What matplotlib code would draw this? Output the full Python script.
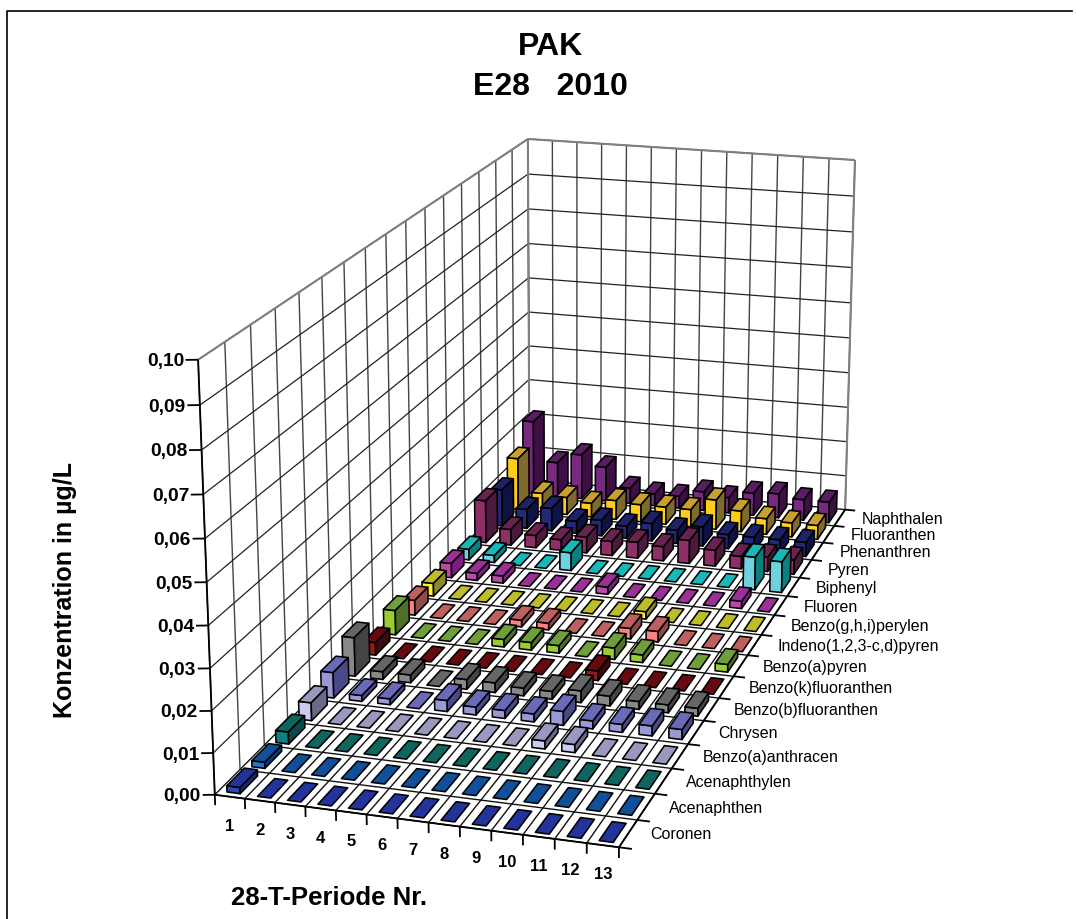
import numpy as np
import matplotlib
matplotlib.use('Agg')
import matplotlib.pyplot as plt
from mpl_toolkits.mplot3d.art3d import Poly3DCollection, Line3DCollection

plt.rcParams['font.family'] = ['Liberation Sans', 'DejaVu Sans']

# PARTIE DONNEES
periods = ['1', '2', '3', '4', '5', '6', '7', '8', '9', '10', '11', '12', '13']
compounds = ['Coronen', 'Acenaphthen', 'Acenaphthylen', 'Benzo(a)anthracen', 'Chrysen',
             'Benzo(b)fluoranthen', 'Benzo(k)fluoranthen', 'Benzo(a)pyren',
             'Indeno(1,2,3-c,d)pyren', 'Benzo(g,h,i)perylen', 'Fluoren', 'Biphenyl',
             'Pyren', 'Phenanthren', 'Fluoranthen', 'Naphthalen']
z_ticks = [0.00, 0.01, 0.02, 0.03, 0.04, 0.05, 0.06, 0.07, 0.08, 0.09, 0.10]

coronen = [.0015, 0, 0, 0, 0, 0, 0, 0, 0, 0, 0, 0, 0]
acenaphthen = [.0015, 0, 0, 0, 0, 0, 0, 0, 0, 0, 0, 0, 0]
acenaphthylen = [.003, 0, 0, 0, 0, 0, 0, 0, 0, 0, 0, 0, 0]
benzo_a_anthracen = [.0045, 0, 0, 0, 0, 0, 0, 0, .002, .002, 0, 0, 0]
chrysen = [.0065, .0015, .0015, 0, .0028, .002, .002, .002, .0035, .002, .002, .0025, .0025]
benzo_b = [.010, .002, .002, 0, .0025, .0025, .002, .002, .003, .0025, .002, .002, .002]
benzo_k = [.0033, 0, 0, 0, 0, 0, 0, 0, .0025, 0, 0, 0, 0]
benzo_a_pyren = [.0065, 0, 0, 0, .002, .002, .002, 0, .003, .002, 0, 0, .002]
indeno = [.004, 0, 0, 0, .0018, .0018, 0, 0, .0028, .0028, 0, 0, 0]
benzo_ghi = [.0035, 0, 0, 0, 0, 0, 0, 0, .002, 0, 0, 0, 0]
fluoren = [.004, .002, .002, 0, 0, 0, .002, 0, 0, 0, 0, .002, 0]
biphenyl = [.003, .002, 0, 0, .005, 0, 0, 0, 0, 0, 0, .009, .0085]
pyren = [.012, .0045, .0035, .003, .0045, .004, .0045, .004, .0065, .0045, .0035, .004, .004]
phenanthren = [.0105, .0055, .0065, .0035, .0045, .0035, .005, .0038, .0055, .004, .004, .004, .004]
fluoranthen = [.015, .0055, .005, .004, .0055, .005, .005, .005, .0085, .006, .0045, .004, .004]
naphthalen = [.0215, .010, .013, .010, .0045, .0035, .0035, .0055, .0045, .0065, .007, .006, .006]

values = [coronen, acenaphthen, acenaphthylen, benzo_a_anthracen, chrysen, benzo_b, benzo_k,
          benzo_a_pyren, indeno, benzo_ghi, fluoren, biphenyl, pyren, phenanthren,
          fluoranthen, naphthalen]

# front, top, side
colors = [('#2a4ab0', '#22339c', '#1a2670'), ('#2a70cc', '#10509a', '#0a3a70'),
          ('#0f8080', '#0f665f', '#0a4a4a'), ('#ccccee', '#9999c0', '#6a6a8a'),
          ('#9999d6', '#6a6ab8', '#4a4a8a'), ('#888888', '#666666', '#444444'),
          ('#8f1a1a', '#660a10', '#3f0a0f'), ('#99cc33', '#6f9f3a', '#4f6f2a'),
          ('#ff8080', '#bf6060', '#8f4a4a'), ('#ffee33', '#bdbd2a', '#8a8a2a'),
          ('#b84aa8', '#9b3098', '#7c2080'), ('#6fd0e0', '#19b8b8', '#0a7f80'),
          ('#8e2f68', '#6a2350', '#4c1a3c'), ('#222a78', '#1e2266', '#0f1245'),
          ('#ffcc1a', '#c9a030', '#7f6a2d'), ('#772a7f', '#5a1c63', '#3e0f45')]

W, H = 1076, 920
nx = len(periods)
ny = len(compounds)
ztop = z_ticks[-1]

# PARTIE CAMERA : repere du graphique -> pixels de l'image, cale sur les coins de la grille
world = np.array([(0, 0, 0), (nx, 0, 0), (nx, ny, 0), (0, ny, 0), (0, 0, ztop), (0, ny, ztop),
                  (nx, ny, ztop), (7, 0, 0), (nx, 8, 0), (7, ny, ztop), (0, 8, ztop)], float)
pixels = np.array([(215, 796), (618.7, 848.3), (845, 511), (529.5, 480), (198.3, 360.7),
                   (527.7, 140), (855, 161), (428.3, 823.6), (748, 655.7), (701.7, 151.2),
                   (385.7, 235.1)], float)

rows = []
for (x, y, z), (u, v) in zip(world, pixels):
    z = z * 100
    rows.append([x, y, z, 1, 0, 0, 0, 0, -u * x, -u * y, -u * z, -u])
    rows.append([0, 0, 0, 0, x, y, z, 1, -v * x, -v * y, -v * z, -v])
P = np.linalg.svd(np.array(rows))[2][-1].reshape(3, 4)
P[:, 2] *= 100
if P[2, 3] < 0:
    P = -P


def project(x, y, z):
    u, v, w = P @ np.array([x, y, z, 1.0])
    return u / w, v / w


def label_at(x, y, z, dx, dy, text, **kw):
    u, v = project(x, y, z)
    fig.text((u + dx) / W, 1 - (v + dy) / H, text, va='center', **kw)


fig = plt.figure(figsize=(W / 100, H / 100), dpi=100)
ax = fig.add_axes([0, 0, 1, 1], projection='3d', computed_zorder=False)
ax.set_axis_off()


def get_proj():
    to_display = np.array([[1, 0, 0], [0, -1, H], [0, 0, 1]], float)
    m = np.linalg.inv(ax.transData.get_matrix()) @ to_display @ P
    return np.vstack([m[0], m[1], [0, 0, 0, 1], m[2]])


ax.get_proj = get_proj


def lines(segments, color, lw, zorder):
    ax.add_collection3d(Line3DCollection(segments, colors=color, linewidths=lw, zorder=zorder),
                        autolim=False)


# PARTIE GRILLE
lines([[(k, ny, 0), (k, ny, ztop)] for k in range(nx + 1)] +
      [[(0, k, 0), (0, k, ztop)] for k in range(ny + 1)], '#444444', 1.0, 1)
lines([[(0, 0, z), (0, ny, z)] for z in z_ticks[1:]] +
      [[(0, ny, z), (nx, ny, z)] for z in z_ticks[1:]], '#222222', 0.9, 1)
lines([[(0, 0, ztop), (0, ny, ztop)], [(0, ny, ztop), (nx, ny, ztop)], [(nx, ny, ztop), (nx, ny, 0)],
       [(0, ny, 0), (0, ny, ztop)]], '#808080', 1.5, 2)
lines([[(k, 0, 0), (k, ny, 0)] for k in range(nx + 1)] +
      [[(0, k, 0), (nx, k, 0)] for k in range(ny + 1)], '#111111', 1.0, 3)
lines([[(0, 0, 0), (0, 0, ztop)], [(0, 0, 0), (nx, 0, 0)], [(nx, 0, 0), (nx, ny, 0)]] +
      [[(k, 0, 0), (k, 0, -0.0025)] for k in range(nx + 1)] +
      [[(nx, k, 0), (nx + 0.4, k, 0)] for k in range(ny + 1)] +
      [[(0, 0, z), (-0.35, -0.06, z)] for z in z_ticks], 'black', 1.3, 4)

# PARTIE BARRES, du fond vers l'avant
bw = 0.22
bd = 0.35
order = 10
for j in range(ny - 1, -1, -1):
    for i in range(nx):
        h = values[j][i]
        x0, x1 = i + 0.5 - bw, i + 0.5 + bw
        y0, y1 = j + 0.5 - bd, j + 0.5 + bd
        top = [(x0, y0, h), (x1, y0, h), (x1, y1, h), (x0, y1, h)]
        front_c, top_c, side_c = colors[j]
        if h > 0:
            front = [(x0, y0, 0), (x1, y0, 0), (x1, y0, h), (x0, y0, h)]
            side = [(x1, y0, 0), (x1, y1, 0), (x1, y1, h), (x1, y0, h)]
            faces, cols = [front, side, top], [front_c, side_c, top_c]
        else:
            faces, cols = [top], [top_c]
        ax.add_collection3d(Poly3DCollection(faces, facecolors=cols, edgecolors='black',
                                             linewidths=1.15, zorder=order), autolim=False)
        order += 1

# PARTIE TEXTE
for z in z_ticks:
    label_at(0, 0, z, -14, 1, ('%.2f' % z).replace('.', ','), ha='right', fontsize=13.8,
             fontweight='bold')
for k, label in enumerate(periods):
    label_at(k + 0.5, 0, 0, 0, 28.5, label, ha='center', fontsize=12, fontweight='bold')
for k, label in enumerate(compounds):
    label_at(nx, k + 0.5, 0, 22.5, 0.5, label, ha='left', fontsize=11.5)

fig.text(550 / W, 1 - 47 / H, 'PAK', ha='center', va='center', fontsize=23, fontweight='bold')
fig.text(550 / W, 1 - 87 / H, 'E28   2010', ha='center', va='center', fontsize=23, fontweight='bold')
fig.text(65 / W, 1 - 590 / H, 'Konzentration in µg/L', rotation=90, ha='center', va='center',
         fontsize=18, fontweight='bold')
fig.text(329 / W, 1 - 898 / H, '28-T-Periode Nr.', ha='center', va='center',
         fontsize=18.5, fontweight='bold')

fig.add_artist(plt.Line2D([7 / W, 7 / W, 1072 / W], [0, 1 - 12 / H, 1 - 12 / H],
                          color='black', lw=1.2))

plt.savefig('out.png', dpi=100)
